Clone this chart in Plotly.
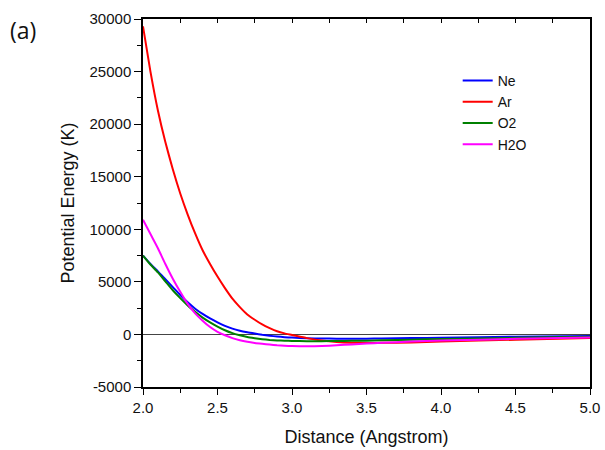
import plotly.graph_objects as go

distance = [2.0, 2.05, 2.1, 2.15, 2.2, 2.25, 2.3, 2.35, 2.4, 2.45, 2.5, 2.55, 2.6, 2.65, 2.7, 2.75, 2.8, 2.85, 2.9, 2.95,
            3.0, 3.1, 3.2, 3.3, 3.4, 3.5, 3.6, 3.8, 4.0, 4.5, 5.0]
ne = [7500, 6700, 6000, 5250, 4500, 3750, 3050, 2450, 1950, 1520, 1150, 820, 550, 350, 200, 80, -30, -120, -200, -260,
      -300, -360, -390, -405, -410, -405, -390, -350, -310, -220, -140]
ar = [29300, 25000, 21300, 18300, 15700, 13400, 11400, 9600, 8000, 6700, 5500, 4400, 3400, 2600, 1900, 1400, 950, 600, 300, 100,
      -50, -350, -580, -720, -790, -810, -800, -760, -680, -500, -350]
o2 = [7500, 6650, 5900, 5050, 4200, 3450, 2750, 2150, 1600, 1150, 750, 400, 120, -80, -250, -360, -450, -520, -570, -600,
      -620, -640, -640, -630, -610, -590, -560, -500, -440, -320, -230]
h2o = [10900, 9550, 8200, 6700, 5300, 4050, 2900, 2000, 1300, 700, 250, -80, -350, -550, -700, -810, -890, -960, -1030, -1080,
       -1110, -1130, -1100, -1030, -950, -870, -800, -680, -580, -420, -300]

y_ticks = [-5000, 0, 5000, 10000, 15000, 20000, 25000, 30000]
y_labels = ["-5000", "0", "5000", "10000", "15000", "20000", "25000", "30000"]
x_ticks = [2.0, 2.5, 3.0, 3.5, 4.0, 4.5, 5.0]
x_labels = ["2.0", "2.5", "3.0", "3.5", "4.0", "4.5", "5.0"]

series = [("Ne", ne, "#0000ff"), ("Ar", ar, "#ff0000"), ("O2", o2, "#008000"), ("H2O", h2o, "#ff00ff")]

fig = go.Figure()
for name, vals, col in series:
    fig.add_trace(go.Scatter(x=distance, y=vals, mode="lines", name=name,
                             line=dict(color=col, width=2, shape="spline", smoothing=0.5)))
fig.add_trace(go.Scatter(x=[2.0, 5.0], y=[None, None], xaxis="x2", showlegend=False, hoverinfo="skip"))

font = "Liberation Sans, Arial, sans-serif"
fig.update_layout(
    width=605, height=450,
    margin=dict(l=143, r=15, t=19, b=63),
    plot_bgcolor="white", paper_bgcolor="white",
    font=dict(family=font, size=15, color="#111"),
    showlegend=True,
    legend=dict(x=0.704, y=0.875, xanchor="left", yanchor="top", bgcolor="rgba(0,0,0,0)",
                font=dict(size=14, family=font), tracegroupgap=0, itemwidth=30),
    xaxis=dict(range=[2.0, 5.0], tickvals=x_ticks, ticktext=x_labels, automargin=False,
               showgrid=False, zeroline=False, showline=True, linecolor="black", linewidth=1.5,
               mirror=True, ticks="outside", ticklen=6, tickwidth=1.2, tickcolor="black",
               minor=dict(dtick=0.25, ticks="outside", ticklen=4, tickcolor="black", showgrid=False),
               title=dict(text="Distance (Angstrom)", font=dict(size=18), standoff=16)),
    xaxis2=dict(range=[2.0, 5.0], overlaying="x", side="top", dtick=0.25, tick0=2.0, automargin=False,
                showticklabels=False, showgrid=False, zeroline=False, showline=False,
                ticks="inside", ticklen=4, tickwidth=1.2, tickcolor="black"),
    yaxis=dict(range=[-5000, 30000], tickvals=y_ticks, ticktext=y_labels, automargin=False,
               showgrid=False, zeroline=True, zerolinecolor="#444", zerolinewidth=1,
               showline=True, linecolor="black", linewidth=1.5, mirror=True,
               ticks="outside", ticklen=7, tickwidth=1.2, tickcolor="black",
               minor=dict(dtick=2500, ticks="outside", ticklen=4, tickcolor="black", showgrid=False),
               title=dict(text="Potential Energy (K)", font=dict(size=18), standoff=10)),
    annotations=[dict(text="(a)", x=(8 - 143) / (605 - 143 - 15), y=(450 - 63 - 30) / (450 - 19 - 63),
                      xref="paper", yref="paper", showarrow=False,
                      font=dict(family="Open Sans, sans-serif", size=23, color="#111"),
                      xanchor="left", yanchor="middle")],
)

fig.write_html("out.html")
